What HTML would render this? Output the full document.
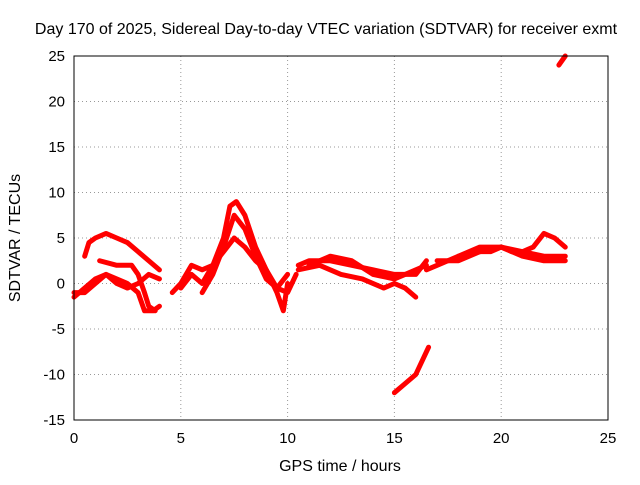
<!DOCTYPE html>
<html><head><meta charset="utf-8"><style>
body{margin:0;background:#fff;font-family:"Liberation Sans",sans-serif}
svg text{font-family:"Liberation Sans",sans-serif;font-size:16px;fill:#000}
svg text.tk{font-size:15px}
</style></head><body>
<svg width="640" height="480" id="c">
<text x="326" y="34" text-anchor="middle">Day 170 of 2025, Sidereal Day-to-day VTEC variation (SDTVAR) for receiver exmt</text>
<text x="340" y="471" text-anchor="middle">GPS time / hours</text>
<text x="20" y="238" text-anchor="middle" transform="rotate(-90 20 238)">SDTVAR / TECUs</text>
<g id="grid"></g>
<g id="ticks"></g>
<g id="series"></g>
<rect x="74" y="56" width="534" height="364" fill="none" stroke="#000"/>
</svg>
<script>
const xTicks=[0,5,10,15,20,25];
const yTicks=[-15,-10,-5,0,5,10,15,20,25];
const tA=[[0.5,3],[0.7,4.5],[1,5],[1.5,5.5],[2,5],[2.5,4.5],[3,3.5],[3.5,2.5],[4,1.5]];
const tB=[[0,-1],[0.5,-1],[1,0],[1.5,1],[2,0.5],[2.5,0],[3,-1],[3.3,-3],[3.7,-3],[4,-2.5]];
const tC=[[1.2,2.5],[2,2],[2.7,2],[3,1],[3.3,-1],[3.5,-2.5],[3.8,-3]];
const tD=[[0,-1.5],[0.5,-0.5],[1,0.5],[1.5,1],[2,0],[2.5,-0.5],[3,0],[3.5,1],[4,0.5]];
const tE=[[4.6,-1],[5,0],[5.5,2],[6,1.5],[6.5,2],[7,3.5],[7.5,5],[8,4],[8.5,2.5],[9,1.5],[9.5,-0.5],[10,-1],[10.4,1]];
const tF=[[5,-0.5],[5.5,1],[6,0],[6.5,2],[7,5],[7.3,8.5],[7.6,9],[8,7.5],[8.5,4],[9,1.5],[9.5,-1],[9.8,-3],[10,0]];
const tG=[[6,-1],[6.5,1],[7,4],[7.5,7.5],[8,6],[8.5,3],[9,0.5],[9.5,-0.5],[10,1]];
const tH=[[10.5,2],[11,2.5],[12,2.5],[13,2],[14,1.5],[15,1],[16,1],[16.5,2.5]];
const tI=[[10.5,1.5],[11.5,2],[12.5,1],[13.5,0.5],[14.5,-0.5],[15,0],[15.5,-0.5],[16,-1.5]];
const tJ=[[11,2],[12,3],[13,2.5],[14,1],[15,0.5],[15.5,1],[16.5,2]];
const tK=[[15,-12],[15.5,-11],[16,-10],[16.6,-7]];
const tL=[[16.5,1.5],[17,2],[18,3],[19,3.5],[19.5,3.5],[20,4],[21,3.5],[22,3],[22.5,3],[23,3]];
const tM=[[17,2.5],[18,2.5],[19,3.5],[20,4],[20.5,3.5],[21,3.5],[21.5,4],[22,5.5],[22.5,5],[23,4]];
const tN=[[18,3],[19,4],[20,4],[21,3],[22,2.5],[23,2.5]];
const tO=[[22.7,24],[23,25]];
const traces=[tA,tB,tC,tD,tE,tF,tG,tH,tI,tJ,tK,tL,tM,tN,tO];
const X=v=>74+v*534/25, Y=v=>56+(25-v)*364/40;
const NS="http://www.w3.org/2000/svg";
function mk(t,a,p){const e=document.createElementNS(NS,t);for(const k in a)e.setAttribute(k,a[k]);p.appendChild(e);return e;}
const g=document.getElementById('grid'),tk=document.getElementById('ticks'),s=document.getElementById('series');
xTicks.forEach(v=>{
 if(v>0&&v<25){const l=mk('line',{x1:X(v),x2:X(v),y1:56,y2:420,stroke:'#999','stroke-dasharray':'1,3'},g);}
 const t=mk('text',{x:X(v),y:443,'text-anchor':'middle','class':'tk'},tk);t.textContent=v;
 
});
yTicks.forEach(v=>{
 if(v>-15&&v<25){const l=mk('line',{x1:74,x2:608,y1:Y(v),y2:Y(v),stroke:'#999','stroke-dasharray':'1,3'},g);}
 const t=mk('text',{x:65,y:Y(v)+5,'text-anchor':'end','class':'tk'},tk);t.textContent=v;
 
});
traces.forEach(tr=>{
 const p=mk('polyline',{points:tr.map(d=>X(d[0])+','+Y(d[1])).join(' '),fill:'none',stroke:'#f00','stroke-width':5,'stroke-linejoin':'round','stroke-linecap':'round'},s);
 
 
});
</script>
</body></html>
